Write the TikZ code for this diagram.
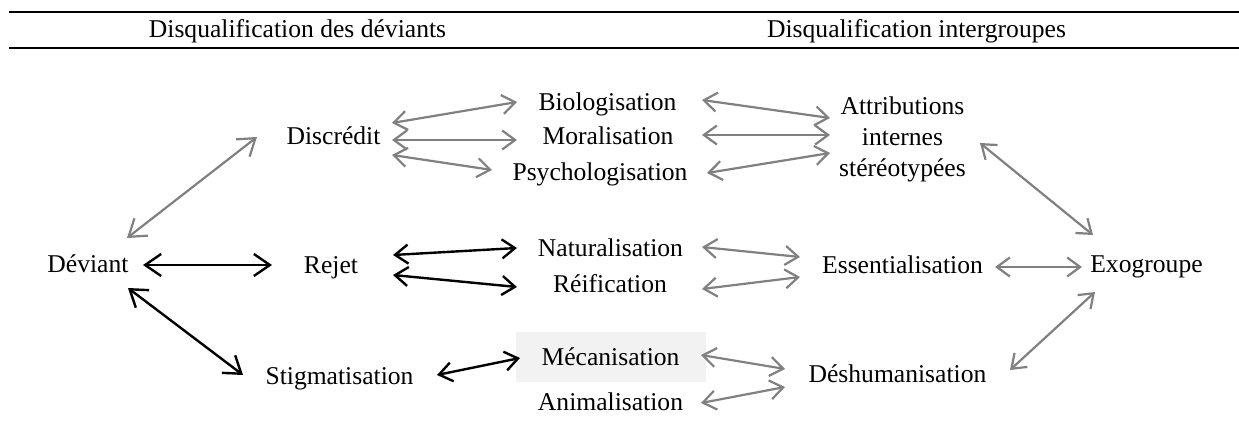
\documentclass[tikz,border=0pt]{standalone}
\usepackage{fontspec}
\setmainfont{Liberation Serif}
\usetikzlibrary{arrows.meta}
\definecolor{gcol}{RGB}{128,128,128}
\definecolor{boxfill}{RGB}{242,242,242}
\begin{document}
\begin{tikzpicture}[x=1pt,y=-1pt,
  lbl/.style={anchor=base, inner sep=0pt, font=\fontsize{25.6}{31}\selectfont},
  rulestyle/.style={draw=black, line width=2.4pt},
  garrow/.style={draw=gcol, line width=2.2pt, arrows={Straight Barb[length=13pt,width=19pt]-Straight Barb[length=13pt,width=19pt]}},
  barrow/.style={draw=black, line width=2.4pt, arrows={Straight Barb[length=13pt,width=19pt]-Straight Barb[length=13pt,width=19pt]}},
  gbig/.style={draw=gcol, line width=2.2pt, arrows={Straight Barb[length=16pt,width=22pt]-Straight Barb[length=16pt,width=22pt]}},
  bbig/.style={draw=black, line width=2.4pt, arrows={Straight Barb[length=16pt,width=22pt]-Straight Barb[length=16pt,width=22pt]}}]
\path[use as bounding box] (0,0) rectangle (1239,441);
\draw[rulestyle] (9,12) -- (1239,12);
\draw[rulestyle] (9,48) -- (1239,48);
\node[lbl] (h1) at (297.5,38) {Disqualification des déviants};
\node[lbl] (h2) at (916.5,38) {Disqualification intergroupes};
% nodes
\node[lbl] (dev) at (88,272) {Déviant};
\node[lbl] (disc) at (333.5,145) {Discrédit};
\node[lbl] (rej) at (331,273) {Rejet};
\node[lbl] (stig) at (339.5,384) {Stigmatisation};
\node[lbl] (bio) at (607.5,111) {Biologisation};
\node[lbl] (mor) at (608,145) {Moralisation};
\node[lbl] (psy) at (600,180) {Psychologisation};
\node[lbl, anchor=north, align=center] (attr) at (902.5,96.5) {Attributions\\internes\\stéréotypées};
\node[lbl] (nat) at (610.5,256) {Naturalisation};
\node[lbl] (rei) at (610,292) {Réification};
\node[lbl, fill=boxfill, minimum width=190pt, text height=20pt, text depth=4pt, inner ysep=13pt] (mec) at (610.5,365) {Mécanisation};
\node[lbl] (ani) at (610.5,410) {Animalisation};
\node[lbl] (ess) at (902.5,273) {Essentialisation};
\node[lbl] (exo) at (1146.5,272) {Exogroupe};
\node[lbl] (desh) at (897.5,382) {Déshumanisation};
% connectors
\draw[gbig] ([shift={(39,-34)}]dev.base) -- ([shift={(-76.5,-8)}]disc.base);
\draw[bbig] ([shift={(55,-7)}]dev.base) -- ([shift={(-59,-8)}]rej.base);
\draw[bbig] ([shift={(40,16)}]dev.base) -- ([shift={(-96.5,-9)}]stig.base);
\draw[garrow] ([shift={(58.5,-22)}]disc.base) -- ([shift={(-90.5,-9)}]bio.base);
\draw[garrow] ([shift={(58.5,-5)}]disc.base) -- ([shift={(-91,-5)}]mor.base);
\draw[garrow] ([shift={(58.5,10)}]disc.base) -- ([shift={(-108,-10)}]psy.base);
\draw[garrow] ([shift={(94.5,-11)}]bio.base) -- ([shift={(-72.5,21.5)}]attr.north);
\draw[garrow] ([shift={(94,-10)}]mor.base) -- ([shift={(-72.5,38.5)}]attr.north);
\draw[garrow] ([shift={(107,-7)}]psy.base) -- ([shift={(-72.5,56.5)}]attr.north);
\draw[garrow] ([shift={(77.5,46.5)}]attr.north) -- ([shift={(-53.5,-37)}]exo.base);
\draw[barrow] ([shift={(62,-18)}]rej.base) -- ([shift={(-93.5,-8)}]nat.base);
\draw[barrow] ([shift={(62,2)}]rej.base) -- ([shift={(-93,-5)}]rei.base);
\draw[garrow] ([shift={(91.5,-9)}]nat.base) -- ([shift={(-102.5,-16)}]ess.base);
\draw[garrow] ([shift={(92,-3)}]rei.base) -- ([shift={(-102.5,4)}]ess.base);
\draw[garrow] ([shift={(92.5,-6)}]ess.base) -- ([shift={(-64.5,-5)}]exo.base);
\draw[barrow] ([shift={(97.5,-9)}]stig.base) -- ([shift={(-90.5,-7)}]mec.base);
\draw[garrow] ([shift={(90.5,-10)}]mec.base) -- ([shift={(-112.5,-13)}]desh.base);
\draw[garrow] ([shift={(90.5,-7)}]ani.base) -- ([shift={(-112.5,5)}]desh.base);
\draw[garrow] ([shift={(-51.5,20)}]exo.base) -- ([shift={(112.5,-12)}]desh.base);
\end{tikzpicture}
\end{document}
